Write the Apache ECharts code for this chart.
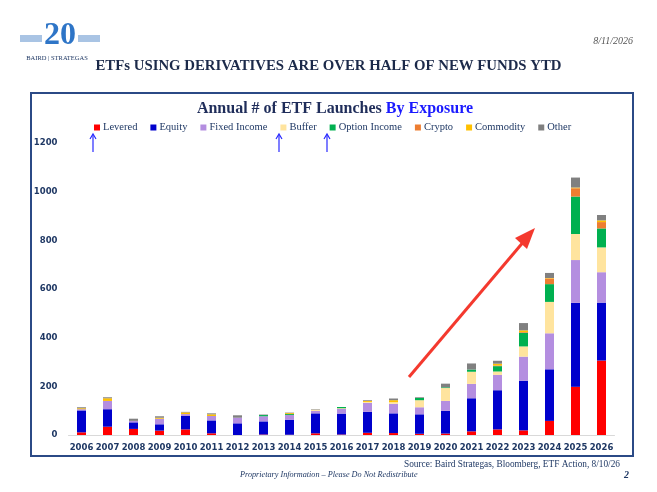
<!DOCTYPE html>
<html>
<head>
<meta charset="utf-8">
<script src="https://cdn.jsdelivr.net/npm/echarts@6/dist/echarts.min.js"></script>
<style>
  html, body { margin: 0; padding: 0; background: #fff; }
  #chart { width: 657px; height: 492px; }
</style>
</head>
<body>
<div id="chart"></div>
<script>
const years = ["2006","2007","2008","2009","2010","2011","2012","2013","2014","2015","2016",
  "2017","2018","2019","2020","2021","2022","2023","2024","2025","2026"];

const levered      = [11, 34, 25, 18, 23, 7, 0, 2, 1, 7, 2, 9, 8, 5, 6, 15, 23, 19, 58, 198, 306];
const equity       = [90, 72, 27, 26, 55, 53, 48, 54, 62, 82, 86, 86, 81, 80, 93, 136, 161, 204, 212, 345, 238];
const fixedIncome  = [5, 34, 6, 23, 8, 18, 23, 21, 19, 10, 19, 37, 39, 29, 41, 59, 63, 99, 148, 176, 125];
const buffer       = [0, 0, 0, 0, 0, 0, 0, 0, 0, 5, 3, 4, 7, 29, 53, 50, 14, 42, 129, 107, 102];
const optionIncome = [0, 0, 0, 0, 0, 0, 0, 5, 4, 0, 5, 0, 0, 9, 3, 9, 22, 56, 73, 154, 78];
const crypto       = [0, 0, 0, 0, 0, 0, 0, 0, 0, 0, 0, 0, 0, 0, 0, 0, 3, 3, 23, 34, 26];
const commodity    = [4, 11, 0, 4, 7, 7, 0, 0, 4, 0, 0, 4, 8, 0, 0, 0, 7, 7, 2, 3, 7];
const other        = [4, 4, 9, 6, 2, 4, 10, 2, 2, 2, 0, 3, 7, 3, 15, 25, 12, 30, 21, 41, 22];

const yTicks = [0, 200, 400, 600, 800, 1000, 1200];

const seriesDefs = [
  ["Levered", levered, "#ff0000"],
  ["Equity", equity, "#0000cc"],
  ["Fixed Income", fixedIncome, "#b48ee0"],
  ["Buffer", buffer, "#ffe49e"],
  ["Option Income", optionIncome, "#00b050"],
  ["Crypto", crypto, "#ed7d31"],
  ["Commodity", commodity, "#ffc000"],
  ["Other", other, "#808080"]
];

const navy = "#1f3864";
const serif = "'Liberation Serif', 'DejaVu Serif', serif";

const chart = echarts.init(document.getElementById("chart"));

const option = {
  animation: false,
  backgroundColor: "#fff",
  title: {
    text: "{a|Annual # of ETF Launches }{b|By Exposure}",
    left: 330, top: 96, textAlign: "center",
    textStyle: {
      rich: {
        a: { fontFamily: serif, fontWeight: "bold", fontSize: 16, color: "#1f2d5a" },
        b: { fontFamily: serif, fontWeight: "bold", fontSize: 16, color: "#1a1aff" }
      }
    }
  },
  legend: {
    top: 117, left: 89,
    icon: "rect", itemWidth: 6, itemHeight: 6, itemGap: 13,
    textStyle: { fontFamily: serif, fontSize: 10.5, color: navy, padding: [0, 0, 0, -2] },
    data: seriesDefs.map(d => d[0])
  },
  grid: { left: 68.5, right: 42.5, top: 143, bottom: 57 },
  xAxis: {
    type: "category",
    data: years,
    axisLine: { lineStyle: { color: "#d9d9d9" } },
    axisTick: { show: false },
    axisLabel: { color: navy, fontFamily: "'DejaVu Sans', sans-serif", fontWeight: "bold", fontSize: 8.5, margin: 8, interval: 0 }
  },
  yAxis: {
    type: "value",
    min: yTicks[0], max: yTicks[yTicks.length - 1], interval: 200,
    splitLine: { show: false },
    axisLine: { show: false },
    axisLabel: {
      color: navy, fontFamily: "'DejaVu Sans', sans-serif", fontWeight: "bold", fontSize: 8.5, margin: 11,
      formatter: v => String(v)
    }
  },
  series: seriesDefs.map(([name, data, color]) => ({
    name, type: "bar", stack: "total", data,
    barWidth: 9,
    itemStyle: { color }
  })),
  graphic: [
    // chart frame
    { type: "rect", shape: { x: 31, y: 93, width: 602, height: 363 }, style: { fill: null, stroke: "#2b4a86", lineWidth: 2 }, z: 0 },
    // header
    { type: "text", left: "center", top: 59, style: { text: "ETFs USING DERIVATIVES ARE OVER HALF OF NEW FUNDS YTD", font: "bold 14.8px " + serif, fill: "#1c2a4a" } },
    { type: "text", right: 24, top: 36, style: { text: "8/11/2026", font: "italic 10px " + serif, fill: "#555" } },
    // logo
    { type: "rect", shape: { x: 20, y: 35, width: 22, height: 7 }, style: { fill: "#a9c4e4" } },
    { type: "rect", shape: { x: 78, y: 35, width: 22, height: 7 }, style: { fill: "#a9c4e4" } },
    { type: "text", x: 60, y: 20, style: { text: "20", font: "bold 32px " + serif, fill: "#2e75c7", textAlign: "center" } },
    { type: "text", x: 57, y: 55, style: { text: "BAIRD | STRATEGAS", font: "6.5px " + serif, fill: navy, textAlign: "center" } },
    // blue arrows under legend items
    { type: "line", shape: { x1: 93, y1: 152, x2: 93, y2: 135 }, style: { stroke: "#2929ff", lineWidth: 1.2 } },
    { type: "polyline", shape: { points: [[90, 139], [93, 134], [96, 139]] }, style: { stroke: "#2929ff", lineWidth: 1.2, fill: null } },
    { type: "line", shape: { x1: 279, y1: 152, x2: 279, y2: 135 }, style: { stroke: "#2929ff", lineWidth: 1.2 } },
    { type: "polyline", shape: { points: [[276, 139], [279, 134], [282, 139]] }, style: { stroke: "#2929ff", lineWidth: 1.2, fill: null } },
    { type: "line", shape: { x1: 327, y1: 152, x2: 327, y2: 135 }, style: { stroke: "#2929ff", lineWidth: 1.2 } },
    { type: "polyline", shape: { points: [[324, 139], [327, 134], [330, 139]] }, style: { stroke: "#2929ff", lineWidth: 1.2, fill: null } },
    // red trend arrow
    { type: "line", shape: { x1: 409, y1: 377, x2: 525, y2: 240 }, style: { stroke: "#f4392e", lineWidth: 3 } },
    { type: "polygon", shape: { points: [[535, 228], [515, 238], [527, 249]] }, style: { fill: "#f4392e" } },
    // footer
    { type: "text", right: 37, top: 460, style: { text: "Source: Baird Strategas, Bloomberg, ETF Action, 8/10/26", font: "9.3px " + serif, fill: navy } },
    { type: "text", left: 240, top: 471, style: { text: "Proprietary Information \u2013 Please Do Not Redistribute", font: "italic 8.2px " + serif, fill: navy } },
    { type: "text", left: 624, top: 470, style: { text: "2", font: "bold italic 10px " + serif, fill: navy } }
  ]
};

chart.setOption(option);
</script>
</body>
</html>
